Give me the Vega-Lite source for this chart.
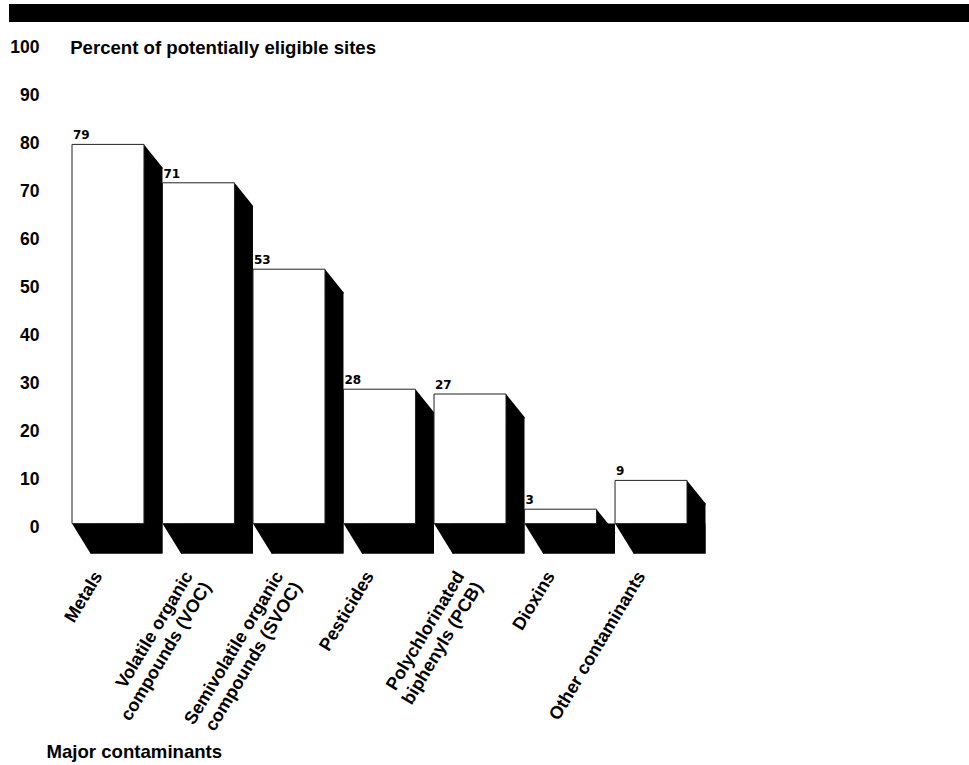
{
  "$schema": "https://vega.github.io/schema/vega-lite/v6.json",
  "padding": {"left": 9, "top": 4, "right": 0, "bottom": 0},
  "spacing": 15.6,
  "background": "white",
  "config": {
    "font": "Liberation Sans",
    "axis": {"labelFontWeight": "bold", "titleFontWeight": "bold", "labelColor": "black", "titleColor": "black", "labelFont": "Liberation Sans", "titleFont": "Liberation Sans"}
  },
  "vconcat": [
    {
      "width": 897,
      "height": 18,
      "view": {"stroke": null},
      "data": {"values": [{"band": "header"}]},
      "mark": {"type": "rect", "color": "black", "xOffset": -63},
      "encoding": {"x": {"value": 0}, "x2": {"value": "width"}, "y": {"value": 0}, "y2": {"value": "height"}}
    },
    {
      "width": 615,
      "height": 480,
      "view": {"stroke": null},
      "data": {
        "values": [
          {"contaminant": "Metals", "value": 79},
          {"contaminant": "Volatile organic\ncompounds (VOC)", "value": 71},
          {"contaminant": "Semivolatile organic\ncompounds (SVOC)", "value": 53},
          {"contaminant": "Pesticides", "value": 28},
          {"contaminant": "Polychlorinated\nbiphenyls (PCB)", "value": 27},
          {"contaminant": "Dioxins", "value": 3},
          {"contaminant": "Other contaminants", "value": 9}
        ]
      },
      "encoding": {
        "x": {
          "field": "contaminant",
          "type": "nominal",
          "sort": null,
          "scale": {"paddingInner": 0.205, "paddingOuter": 0},
          "axis": {
            "title": "Major contaminants",
            "titleFontSize": 18.6,
            "titleAngle": 0,
            "titleAlign": "left",
            "titleBaseline": "alphabetic",
            "titleX": -26,
            "titleY": 234,
            "labelAngle": -59,
            "labelAlign": "right",
            "labelBaseline": "top",
            "labelFontSize": 18,
            "labelLineHeight": 21,
            "labelPadding": 44.5,
            "labelOffset": -17,
            "labelExpr": "split(datum.label, '\\n')",
            "labelOverlap": false,
            "labelBound": false,
            "labelFlush": false,
            "labelLimit": 400,
            "ticks": false,
            "domain": false,
            "grid": false
          }
        },
        "y": {
          "field": "value",
          "type": "quantitative",
          "scale": {"domain": [0, 100], "nice": false},
          "axis": {
            "title": "Percent of potentially eligible sites",
            "titleFontSize": 18.6,
            "titleAngle": 0,
            "titleAlign": "left",
            "titleBaseline": "alphabetic",
            "titleX": -2.3,
            "titleY": 9.7,
            "values": [0, 10, 20, 30, 40, 50, 60, 70, 80, 90, 100],
            "labelFontSize": 17.5,
            "labelPadding": 33,
            "labelOffset": 3.5,
            "labelBaseline": "middle",
            "ticks": false,
            "domain": false,
            "grid": false
          }
        }
      },
      "layer": [
        {
          "mark": {"type": "bar", "color": "black", "xOffset": 18.5, "yOffset": 23, "y2Offset": 30},
          "encoding": {"y2": {"datum": 0}}
        },
        {
          "mark": {"type": "bar", "color": "black", "xOffset": 18.5, "y2Offset": 30},
          "encoding": {"y": {"datum": 0, "type": "quantitative"}, "y2": {"datum": 0}}
        },
        {
          "mark": {"type": "point", "shape": "M36,0L54.5,23L54.5,24.5L36,24.5Z", "size": 4, "filled": true, "color": "black", "opacity": 1, "strokeWidth": 0}
        },
        {
          "mark": {"type": "point", "shape": "M-36,0L-16,0L-16,30L-17.5,30Z", "size": 4, "filled": true, "color": "black", "opacity": 1, "strokeWidth": 0},
          "encoding": {"y": {"datum": 0, "type": "quantitative"}}
        },
        {
          "mark": {"type": "bar", "fill": "white", "stroke": "#222", "strokeWidth": 1},
          "encoding": {"y2": {"datum": 0}}
        },
        {
          "mark": {"type": "text", "align": "left", "baseline": "alphabetic", "dx": -35, "dy": -5, "font": "DejaVu Sans", "fontWeight": "bold", "fontSize": 12, "color": "black"},
          "encoding": {"text": {"field": "value", "type": "quantitative", "format": "d"}}
        }
      ]
    }
  ]
}
